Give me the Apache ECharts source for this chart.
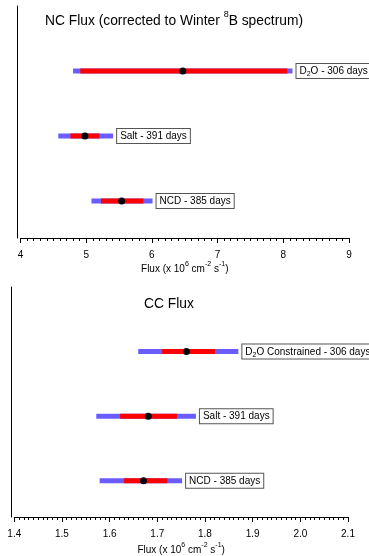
<!DOCTYPE html>
<html>
<head>
<meta charset="utf-8">
<script src="https://cdn.jsdelivr.net/npm/echarts@6/dist/echarts.min.js"></script>
<style>
  html, body { margin: 0; padding: 0; background: #fff; }
  #chart { width: 369px; height: 556px; }
</style>
</head>
<body>
<div id="chart"></div>
<script>
// NC flux panel (top)
var ncLabels   = ['{n|D}{sub|2}{n|O - 306 days}', '{n|Salt - 391 days}', '{n|NCD - 385 days}'];
var ncFlux     = [6.47, 4.98, 5.54];
var ncStatLow  = [4.91, 4.76, 5.225];
var ncStatHigh = [8.06, 5.20, 5.87];
var ncTotLow   = [4.80, 4.575, 5.08];
var ncTotHigh  = [8.14, 5.41, 6.01];

// CC flux panel (bottom)
var ccLabels   = ['{n|D}{sub|2}{n|O Constrained - 306 days}', '{n|Salt - 391 days}', '{n|NCD - 385 days}'];
var ccFlux     = [1.761, 1.681, 1.671];
var ccStatLow  = [1.710, 1.622, 1.630];
var ccStatHigh = [1.821, 1.741, 1.721];
var ccTotLow   = [1.660, 1.572, 1.579];
var ccTotHigh  = [1.870, 1.781, 1.752];

var FONT = 'Liberation Sans';
var BLUE = '#6a5cff';
var RED = '#ff0000';

// rich styles for sub/superscripts
var labelRich = {
    n: { fontFamily: FONT, fontSize: 10, lineHeight: 13, color: '#000', verticalAlign: 'middle' },
    sub: { fontFamily: FONT, fontSize: 7, lineHeight: 13, color: '#000', verticalAlign: 'bottom' }
};
var nameRich = {
    n: { fontFamily: FONT, fontSize: 10, lineHeight: 13, color: '#000', verticalAlign: 'bottom' },
    sup: { fontFamily: FONT, fontSize: 7, lineHeight: 13, color: '#000', verticalAlign: 'top' }
};
var titleRich = {
    n: { fontFamily: FONT, fontSize: 13.8, fontWeight: 'normal', lineHeight: 18, color: '#000', verticalAlign: 'bottom' },
    sup: { fontFamily: FONT, fontSize: 9, fontWeight: 'normal', lineHeight: 18, color: '#000', verticalAlign: 'top' }
};

// 行: 上から順に 2,1,0
function buildData(flux, sLow, sHigh, tLow, tHigh) {
    var out = [];
    for (var i = 0; i < flux.length; i++) {
        out.push([flux.length - 1 - i, flux[i], sLow[i], sHigh[i], tLow[i], tHigh[i]]);
    }
    return out;
}

function makeRender(labels) {
    return function (params, api) {
        var y = api.value(0);
        var a = api.coord([api.value(4), y]);
        var b = api.coord([api.value(5), y]);
        var c = api.coord([api.value(2), y]);
        var d = api.coord([api.value(3), y]);
        var m = api.coord([api.value(1), y]);
        return {
            type: 'group',
            children: [
                { type: 'line', shape: { x1: a[0], y1: a[1], x2: b[0], y2: b[1] },
                  style: { stroke: BLUE, lineWidth: 5 } },
                { type: 'line', shape: { x1: c[0], y1: c[1], x2: d[0], y2: d[1] },
                  style: { stroke: RED, lineWidth: 5 } },
                { type: 'circle', shape: { cx: m[0], cy: m[1], r: 3.5 },
                  style: { fill: '#000' } },
                { type: 'text', x: b[0] + 4, y: b[1],
                  style: {
                      text: labels[params.dataIndex],
                      rich: labelRich,
                      fill: '#000',
                      backgroundColor: '#fff', borderColor: '#555', borderWidth: 1,
                      padding: [1, 3, 0, 3],
                      align: 'left', verticalAlign: 'middle'
                  } }
            ]
        };
    };
}

function xAxisOpt(idx, min, max, interval, nameGap, fmt) {
    return {
        gridIndex: idx, type: 'value', min: min, max: max, interval: interval,
        name: '{n|Flux (x 10}{sup|6}{n| cm}{sup|-2}{n| s}{sup|-1}{n|)}',
        nameLocation: 'middle', nameGap: nameGap,
        nameTextStyle: { rich: nameRich },
        axisLine: { show: true, onZero: false, lineStyle: { color: '#000', width: 1 } },
        axisTick: { show: true, length: 5, inside: false, lineStyle: { color: '#000' } },
        minorTick: { show: true, splitNumber: 10, length: 3, lineStyle: { color: '#000' } },
        splitLine: { show: false },
        axisLabel: { fontFamily: FONT, fontSize: 10, color: '#000', margin: 12, formatter: fmt }
    };
}

function yAxisOpt(idx, min, offset) {
    return {
        gridIndex: idx, type: 'value', min: min, max: 3, offset: offset,
        axisLine: { show: true, onZero: false, lineStyle: { color: '#000', width: 1 } },
        axisTick: { show: false }, axisLabel: { show: false }, splitLine: { show: false }
    };
}

var chart = echarts.init(document.getElementById('chart'));
chart.setOption({
    backgroundColor: '#fff',
    animation: false,
    title: [
        { text: '{n|NC Flux (corrected to Winter }{sup|8}{n|B spectrum)}', left: 45, top: 10, padding: 0,
          textStyle: { rich: titleRich } },
        { text: '{n|CC Flux}', left: 144, top: 293, padding: 0,
          textStyle: { rich: titleRich } }
    ],
    grid: [
        { left: 20.5, top: 6, width: 328.5, height: 232 },
        { left: 14.3, top: 287, width: 333.7, height: 234 }
    ],
    xAxis: [
        xAxisOpt(0, 4, 9, 1, 22, null),
        xAxisOpt(1, 1.4, 2.1, 0.1, 25, function (v) { return v.toFixed(1); })
    ],
    yAxis: [
        yAxisOpt(0, -0.57, 3.5),
        yAxisOpt(1, -0.56, 2.6)
    ],
    series: [
        { type: 'custom', xAxisIndex: 0, yAxisIndex: 0, clip: false,
          renderItem: makeRender(ncLabels),
          encode: { x: [1, 2, 3, 4, 5], y: 0 },
          data: buildData(ncFlux, ncStatLow, ncStatHigh, ncTotLow, ncTotHigh) },
        { type: 'custom', xAxisIndex: 1, yAxisIndex: 1, clip: false,
          renderItem: makeRender(ccLabels),
          encode: { x: [1, 2, 3, 4, 5], y: 0 },
          data: buildData(ccFlux, ccStatLow, ccStatHigh, ccTotLow, ccTotHigh) }
    ]
});
</script>
</body>
</html>
